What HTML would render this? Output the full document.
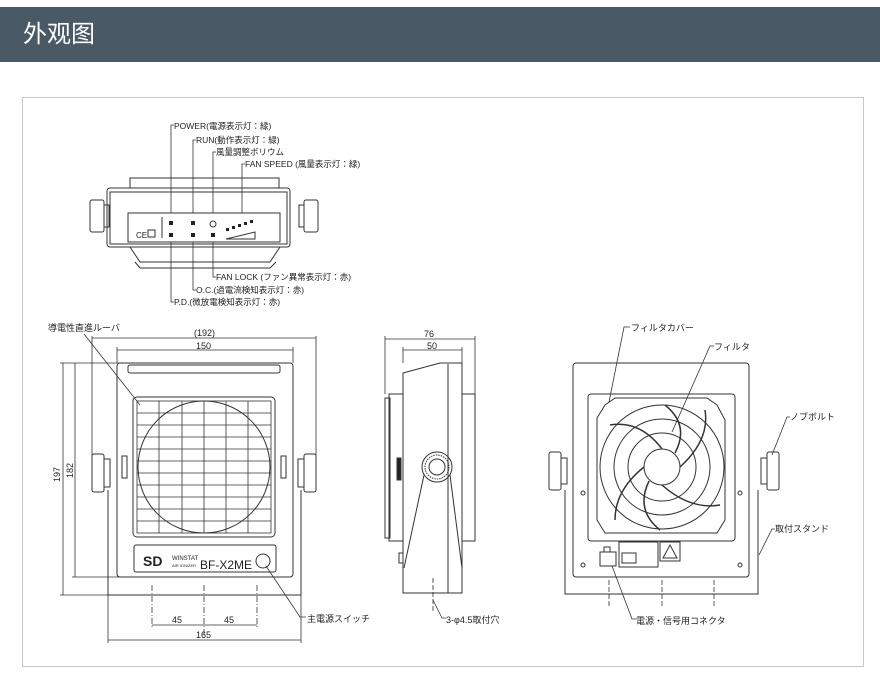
<!DOCTYPE html>
<html><head><meta charset="utf-8"><style>
html,body{margin:0;padding:0;background:#fff;width:880px;height:675px;overflow:hidden}
.hd{position:absolute;left:0;top:7px;width:880px;height:55px;background:#4a5966;color:#fff;font:24px "Liberation Sans","Noto Sans CJK SC",sans-serif;line-height:55px;padding-left:23px;box-sizing:border-box}
.fr{position:absolute;left:22px;top:97px;width:842px;height:570px;border:1px solid #c8c8c8;box-sizing:border-box}
svg{position:absolute;left:0;top:0}
text{font-family:"Liberation Sans","Noto Sans CJK JP",sans-serif;fill:#222}
</style></head><body>
<div class="hd">外观图</div>
<div class="fr"></div>
<svg width="880" height="675" viewBox="0 0 880 675" fill="none" stroke="#333" stroke-width="1">
<!-- TOP VIEW -->
<rect x="130" y="178" width="149" height="10"/>
<rect x="107" y="188" width="183" height="59" rx="3"/>
<rect x="110" y="192" width="177" height="52"/>
<rect x="128" y="213" width="152" height="29"/>
<path d="M130 247 L140 262 L270 262 L280 247"/>
<path d="M135 262 L140 268 L270 268 L276 262"/>
<rect x="90" y="200" width="14" height="32" rx="2"/><rect x="104" y="205" width="5" height="22"/>
<rect x="304" y="200" width="14" height="32" rx="2"/><rect x="299" y="205" width="5" height="22"/>
<g fill="#222" stroke="none">
<rect x="169" y="221" width="4" height="4"/><rect x="169" y="233" width="4" height="4"/>
<rect x="191" y="221" width="4" height="4"/><rect x="191" y="233" width="4" height="4"/>
<rect x="211" y="233" width="4" height="4"/>
<rect x="226" y="228" width="3" height="3"/><rect x="232" y="226" width="3" height="3"/><rect x="238" y="224" width="3" height="3"/><rect x="244" y="222" width="3" height="3"/><rect x="250" y="220" width="3" height="3"/>
</g>
<circle cx="213" cy="224" r="3"/>
<path d="M226 239 L255 232 L255 239 Z"/>
<line x1="162" y1="217" x2="162" y2="238"/>
<text x="136" y="238" font-size="8" stroke="none">CE</text><rect x="148" y="230" width="7" height="7"/>
<g stroke-width="0.8">
<path d="M171 213 V125 H174"/><path d="M193 213 V140 H196"/><path d="M213 213 V152 H216"/><path d="M242 213 V164 H245"/>
<path d="M213 242 V277 H216"/><path d="M193 242 V290 H196"/><path d="M171 242 V302 H174"/>
</g>
<g font-size="8.5" stroke="none">
<text x="174" y="129">POWER(電源表示灯：緑)</text>
<text x="196" y="143">RUN(動作表示灯：緑)</text>
<text x="216" y="155">風量調整ボリウム</text>
<text x="245" y="167">FAN SPEED (風量表示灯：緑)</text>
<text x="216" y="280">FAN LOCK (ファン異常表示灯：赤)</text>
<text x="196" y="293">O.C.(過電流検知表示灯：赤)</text>
<text x="174" y="305">P.D.(微放電検知表示灯：赤)</text>
</g>
<!-- FRONT VIEW -->
<g stroke-width="0.8">
<path d="M92 455 V336 M316 455 V336 M92 338 H316"/>
<path d="M117 363 V347 M293 363 V347 M117 350 H293"/>
<path d="M60 363 H120 M60 595 H110 M63 363 V595"/>
<path d="M72 577 H120 M75 363 V577"/>
<path d="M108 595 V643 M301 595 V643 M108 640 H301"/>
<path d="M152 625 H257" /><path d="M152 585 V628 M204 585 V640 M257 585 V628" stroke-dasharray="6 2 1 2"/>
</g>
<g font-size="9" stroke="none">
<text x="194" y="336">(192)</text><text x="196" y="349">150</text>
<text x="172" y="623">45</text><text x="224" y="623">45</text><text x="196" y="638">165</text>
<text transform="translate(60 482) rotate(-90)">197</text>
<text transform="translate(73 478) rotate(-90)">182</text>
</g>
<rect x="117" y="363" width="176" height="214" rx="3"/>
<rect x="128" y="365" width="152" height="8" rx="2"/>
<rect x="133" y="397" width="142" height="140" rx="4"/>
<g stroke-width="0.8">
<rect x="137" y="401" width="134" height="132"/>
<path d="M159 401V533M182 401V533M204 401V533M226 401V533M248 401V533"/>
<path d="M137 413H271M137 425H271M137 437H271M137 449H271M137 461H271M137 473H271M137 485H271M137 497H271M137 509H271M137 521H271"/>
</g>
<circle cx="204" cy="467" r="66"/>
<rect x="134" y="545" width="142" height="27" rx="2"/>
<circle cx="263" cy="561" r="7"/>
<text x="143" y="566" font-size="14" font-weight="bold" stroke="none">SD</text>
<text x="172" y="560" font-size="6" stroke="none">WINSTAT</text><text x="172" y="567" font-size="4" stroke="none">AIR IONIZER</text>
<text x="200" y="569" font-size="12" stroke="none">BF-X2ME</text>
<path d="M108 490 V595 H301 V490"/>
<rect x="92" y="454" width="12" height="38" rx="2"/><rect x="104" y="459" width="6" height="28"/>
<rect x="304" y="454" width="12" height="38" rx="2"/><rect x="298" y="459" width="6" height="28"/>
<rect x="122" y="456" width="5" height="22"/><rect x="281" y="456" width="5" height="22"/>
<g stroke-width="0.8"><path d="M84 334 L140 405"/><path d="M266 566 L300 617 H306"/></g>
<g font-size="9" stroke="none"><text x="48" y="331">導電性直進ルーバ</text><text x="307" y="622">主電源スイッチ</text></g>
<!-- SIDE VIEW -->
<g stroke-width="0.8">
<path d="M385 394 V336 M475 394 V336 M385 339 H475"/>
<path d="M403 363 V347 M462 363 V347 M403 350 H462"/>
</g>
<g font-size="9" stroke="none"><text x="424" y="337">76</text><text x="427" y="349">50</text></g>
<path d="M403 373 L440 363 H462 V593 H403 Z"/>
<line x1="448" y1="364" x2="448" y2="593"/>
<rect x="462" y="394" width="13" height="147"/>
<rect x="389" y="394" width="14" height="147"/>
<rect x="385" y="398" width="5" height="140"/>
<rect x="397" y="458" width="4" height="22" fill="#222"/>
<circle cx="437" cy="467" r="15"/><circle cx="437" cy="467" r="12" stroke-dasharray="1.5 1"/><circle cx="437" cy="467" r="8"/>
<path d="M424 475 L404 568 M450 475 L462 568"/>
<rect x="399" y="553" width="4" height="10"/>
<g stroke-width="0.8"><path d="M433 578 V612" stroke-dasharray="5 2"/><path d="M433 600 L442 618 H446"/></g>
<text x="446" y="623" font-size="9" stroke="none">3-φ4.5取付穴</text>
<!-- REAR VIEW -->
<rect x="573" y="363" width="176" height="214" rx="3"/>
<rect x="588" y="394" width="147" height="147" rx="3"/>
<path d="M605 405 L615 398 H707 L717 405 L725 420 V520 L717 533 H605 L597 520 V418 Z"/>
<circle cx="662" cy="467" r="62"/><circle cx="662" cy="467" r="48"/><circle cx="662" cy="467" r="34"/><circle cx="662" cy="467" r="18"/>
<g stroke-width="1.5"><path d="M662 449 Q640 420 610 425 M680 467 Q710 440 705 410 M662 485 Q690 510 720 505 M644 467 Q615 490 615 520 M675 453 Q690 425 665 405 M649 481 Q635 510 660 530"/></g>
<circle cx="583" cy="493" r="2"/><circle cx="740" cy="493" r="2"/><circle cx="583" cy="565" r="2"/><circle cx="740" cy="565" r="2"/>
<rect x="600" y="552" width="16" height="14"/><rect x="604" y="547" width="6" height="5"/>
<rect x="619" y="542" width="39" height="25"/><rect x="622" y="553" width="14" height="10"/>
<rect x="660" y="542" width="20" height="19"/><path d="M670 545 L677 558 H663 Z"/>
<path d="M565 490 V594 H758 V490"/>
<rect x="549" y="452" width="12" height="38" rx="2"/><rect x="561" y="458" width="6" height="26"/>
<rect x="767" y="452" width="12" height="38" rx="2"/><rect x="761" y="458" width="6" height="26"/>
<g stroke-width="0.8"><path d="M609 580 V607 M662 580 V607 M714 580 V607" stroke-dasharray="5 2"/></g>
<g stroke-width="0.8">
<path d="M609 402 L624 327 H630"/><path d="M672 432 L710 346 H714"/><path d="M772 455 L787 417 H790"/><path d="M759 555 L772 529 H775"/><path d="M612 566 L632 619 H636"/>
</g>
<g font-size="9" stroke="none">
<text x="631" y="331">フィルタカバー</text><text x="714" y="350">フィルタ</text><text x="790" y="420">ノブボルト</text><text x="775" y="532">取付スタンド</text><text x="636" y="624">電源・信号用コネクタ</text>
</g>
</svg>
</body></html>
